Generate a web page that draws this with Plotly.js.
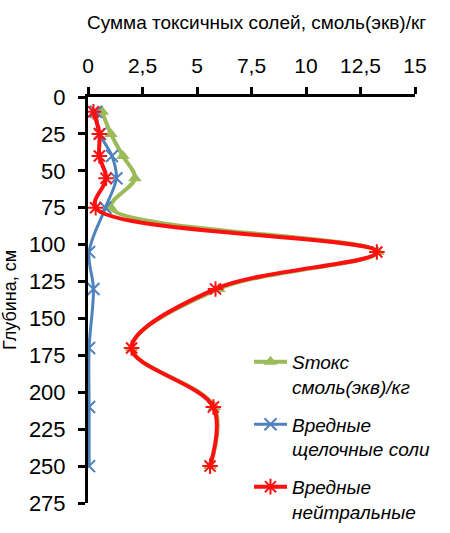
<!DOCTYPE html>
<html>
<head>
<meta charset="utf-8">
<script src="https://cdn.plot.ly/plotly-3.0.1.min.js"></script>
<style>html,body{margin:0;padding:0;background:#fff;}#chart{width:450px;height:533px;}</style>
</head>
<body>
<div id="chart"></div>
<script>
var depth = [10, 25, 40, 55, 75, 105, 130, 170, 210, 250];
var stox = [0.65, 1.05, 1.6, 2.15, 1.05, 13.3, 6.0, 2.0, 5.8, 5.6];
var alkaline = [0.37, 0.55, 1.1, 1.3, 0.8, 0.05, 0.25, 0.05, 0.05, 0.05];
var neutral = [0.25, 0.52, 0.52, 0.83, 0.35, 13.25, 5.85, 2.0, 5.75, 5.6];
var xTicks = [0, 2.5, 5, 7.5, 10, 12.5, 15];
var xTickText = ['0', '2,5', '5', '7,5', '10', '12,5', '15'];
var yTicks = [0, 25, 50, 75, 100, 125, 150, 175, 200, 225, 250, 275];

var names = ['<i>Sтокс<br>смоль(экв)/кг</i>', '<i>Вредные<br>щелочные соли</i>', '<i>Вредные<br>нейтральные<br>соли</i>'];

var traces = [
  {x: stox, y: depth, name: names[0], legendgroup: 'a', mode: 'lines+markers',
   line: {color: '#9BBB59', width: 4, shape: 'spline', smoothing: 1},
   marker: {symbol: 'triangle-up', size: 12, color: '#9BBB59'}},
  {x: alkaline, y: depth, name: names[1], legendgroup: 'b', mode: 'lines+markers',
   line: {color: '#4F81BD', width: 3, shape: 'spline', smoothing: 1},
   marker: {symbol: 'x-thin-open', size: 12, color: '#4F81BD', line: {color: '#4F81BD', width: 2}}},
  {x: neutral, y: depth, name: names[2], legendgroup: 'c', mode: 'lines+markers',
   line: {color: '#FF1010', width: 4, shape: 'spline', smoothing: 1},
   marker: {symbol: 'asterisk-open', size: 13, color: '#FF1010', line: {color: '#FF1010', width: 2}}}
];

var layout = {
  width: 450, height: 533,
  margin: {l: 88, r: 35, t: 97, b: 30, autoexpand: false},
  paper_bgcolor: '#fff', plot_bgcolor: '#fff',
  font: {family: 'Liberation Sans, Arial, sans-serif', color: '#000', size: 21},
  title: {text: 'Сумма токсичных солей, смоль(экв)/кг', font: {size: 19, color: '#000'},
    x: 87/450, xanchor: 'left', xref: 'container', y: 1 - 22/533, yanchor: 'middle', yref: 'container'},
  xaxis: {side: 'top', range: [0, 15], tickvals: xTicks, ticktext: xTickText,
    showgrid: false, zeroline: false, showline: true, linecolor: '#000', linewidth: 3,
    ticks: 'outside', ticklen: 7, tickwidth: 3, tickcolor: '#000', ticklabelstandoff: 6,
    tickfont: {size: 21}},
  yaxis: {range: [275, 0], tickvals: yTicks, showgrid: false, zeroline: false,
    showline: true, linecolor: '#000', linewidth: 3,
    ticks: 'outside', ticklen: 7, tickwidth: 3, tickcolor: '#000', ticklabelstandoff: 8,
    tickfont: {size: 22},
    title: {text: 'Глубина, см', font: {size: 18}, standoff: 8}},
  showlegend: true,
  legend: {x: (249 - 88) / 327, y: (503 - 343) / 406, xanchor: 'left', yanchor: 'top', bgcolor: 'rgba(0,0,0,0)',
    font: {size: 19}, traceorder: 'grouped', tracegroupgap: 10, itemwidth: 33, valign: 'top'}
};

Plotly.newPlot('chart', traces, layout, {displayModeBar: false, staticPlot: true});
</script>
</body>
</html>
